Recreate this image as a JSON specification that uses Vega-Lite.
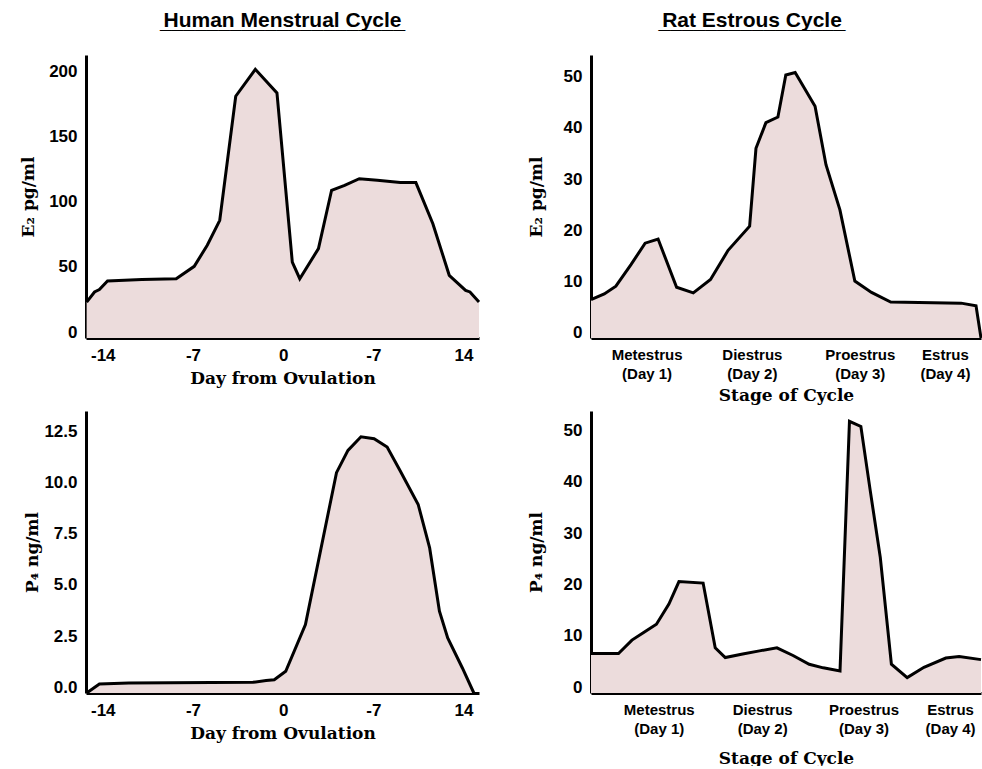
{
  "$schema": "https://vega.github.io/schema/vega-lite/v6.json",
  "background": "white",
  "padding": {"left": 19, "top": 10, "right": 0, "bottom": 0},
  "config": {
    "view": {"stroke": null},
    "axis": {
      "grid": false, "ticks": false, "tickSize": 0,
      "domainColor": "black", "domainWidth": 3,
      "labelFont": "Liberation Sans", "labelFontWeight": "bold", "labelFontSize": 17, "labelColor": "black", "labelPadding": 9,
      "titleFont": "DejaVu Serif", "titleFontWeight": "bold", "titleFontSize": 17, "titleColor": "black"
    },
    "title": {"font": "Liberation Sans", "fontWeight": "bold", "fontSize": 21, "color": "black", "anchor": "middle"}
  },
  "datasets": {
    "humanE2": [
      {"day": -15.25, "value": 23}, {"day": -14.64, "value": 30.8}, {"day": -14.26, "value": 32.6},
      {"day": -13.63, "value": 39.2}, {"day": -10.96, "value": 40.3}, {"day": -8.3, "value": 41},
      {"day": -6.9, "value": 50.5}, {"day": -5.89, "value": 66.7}, {"day": -4.92, "value": 85.9},
      {"day": -3.68, "value": 181.3}, {"day": -2.16, "value": 202}, {"day": -0.48, "value": 183.8},
      {"day": 0.71, "value": 53.8}, {"day": 1.29, "value": 41}, {"day": 2.74, "value": 64.1},
      {"day": 3.76, "value": 109}, {"day": 4.77, "value": 112.8}, {"day": 5.91, "value": 117.9},
      {"day": 7.31, "value": 116.7}, {"day": 9.09, "value": 114.9}, {"day": 10.3, "value": 114.9},
      {"day": 11.62, "value": 83.3}, {"day": 12.89, "value": 43.6}, {"day": 14.16, "value": 32},
      {"day": 14.5, "value": 30.8}, {"day": 15.2, "value": 23}
    ],
    "humanP4": [
      {"day": -15.25, "value": -0.28}, {"day": -14.26, "value": 0.16}, {"day": -11.98, "value": 0.21},
      {"day": -2.34, "value": 0.24}, {"day": -1.32, "value": 0.33}, {"day": -0.69, "value": 0.37},
      {"day": 0.2, "value": 0.78}, {"day": 1.73, "value": 3.06}, {"day": 4.14, "value": 10.47},
      {"day": 5.03, "value": 11.56}, {"day": 6.04, "value": 12.22}, {"day": 7.06, "value": 12.13},
      {"day": 8.07, "value": 11.72}, {"day": 9.09, "value": 10.55}, {"day": 10.48, "value": 8.92},
      {"day": 11.37, "value": 6.8}, {"day": 12.13, "value": 3.71}, {"day": 12.77, "value": 2.41},
      {"day": 13.91, "value": 0.94}, {"day": 14.8, "value": -0.28}
    ],
    "ratE2": [
      {"stage": 0.0, "value": 6.5}, {"stage": 0.136, "value": 7.6}, {"stage": 0.255, "value": 9.1},
      {"stage": 0.41, "value": 13.3}, {"stage": 0.555, "value": 17.5}, {"stage": 0.688, "value": 18.3},
      {"stage": 0.878, "value": 8.9}, {"stage": 1.049, "value": 7.8}, {"stage": 1.226, "value": 10.4},
      {"stage": 1.406, "value": 16.1}, {"stage": 1.627, "value": 20.8}, {"stage": 1.692, "value": 36},
      {"stage": 1.794, "value": 41}, {"stage": 1.917, "value": 42.1}, {"stage": 1.998, "value": 50.3},
      {"stage": 2.094, "value": 50.8}, {"stage": 2.298, "value": 44.2}, {"stage": 2.41, "value": 32.8},
      {"stage": 2.553, "value": 24}, {"stage": 2.706, "value": 10.1}, {"stage": 2.877, "value": 7.9},
      {"stage": 3.074, "value": 6.0}, {"stage": 3.796, "value": 5.8}, {"stage": 3.949, "value": 5.3},
      {"stage": 4.0, "value": -1}
    ],
    "ratP4": [
      {"stage": 0.0, "value": 6.6}, {"stage": 0.282, "value": 6.6}, {"stage": 0.42, "value": 9.2},
      {"stage": 0.54, "value": 10.7}, {"stage": 0.671, "value": 12.3}, {"stage": 0.799, "value": 16.2},
      {"stage": 0.902, "value": 20.6}, {"stage": 1.15, "value": 20.3}, {"stage": 1.274, "value": 7.7},
      {"stage": 1.377, "value": 5.8}, {"stage": 1.556, "value": 6.5}, {"stage": 1.728, "value": 7.1},
      {"stage": 1.907, "value": 7.7}, {"stage": 2.072, "value": 6.2}, {"stage": 2.238, "value": 4.5},
      {"stage": 2.382, "value": 3.8}, {"stage": 2.554, "value": 3.2}, {"stage": 2.651, "value": 51.8},
      {"stage": 2.768, "value": 50.8}, {"stage": 2.864, "value": 38.3}, {"stage": 2.967, "value": 25.3},
      {"stage": 3.081, "value": 4.5}, {"stage": 3.243, "value": 1.9}, {"stage": 3.415, "value": 3.9},
      {"stage": 3.639, "value": 5.7}, {"stage": 3.776, "value": 6.0}, {"stage": 4.0, "value": 5.4}
    ]
  },
  "columns": 2,
  "spacing": {"row": 8, "column": 42},
  "concat": [
    {
      "width": 393, "height": 283,
      "title": {"text": ["Human Menstrual Cycle", "_____________________"], "lineHeight": 1, "offset": 23},
      "data": {"name": "humanE2"},
      "encoding": {
        "x": {"field": "day", "type": "quantitative",
          "scale": {"domain": [-15.3, 15.2], "nice": false, "zero": false},
          "axis": {"values": [-14, -7, 0, 7, 14], "labelExpr": "datum.value == 7 ? '-7' : '' + datum.value", "title": "Day from Ovulation", "titlePadding": 7}},
        "y": {"field": "value", "type": "quantitative",
          "scale": {"domain": [-4.6, 213], "nice": false, "zero": false},
          "axis": {"values": [0, 50, 100, 150, 200], "title": "E₂ pg/ml", "titlePadding": 11}}
      },
      "layer": [
        {"mark": {"type": "area", "color": "#ecdcdc"}, "encoding": {"y2": {"datum": -4.6}}},
        {"mark": {"type": "line", "color": "black", "strokeWidth": 3, "strokeJoin": "miter"}, "encoding": {}}
      ]
    },
    {
      "width": 390, "height": 283,
      "title": {"text": ["Rat Estrous Cycle", "________________"], "lineHeight": 1, "offset": 23, "dx": -34},
      "data": {"name": "ratE2"},
      "encoding": {
        "x": {"field": "stage", "type": "quantitative",
          "scale": {"domain": [0, 4], "nice": false, "zero": false},
          "axis": {"values": [0.57, 1.65, 2.757, 3.63], "labelFontSize": 15, "labelLineHeight": 19, "labelOverlap": false,
            "labelExpr": "datum.value < 1 ? ['Metestrus', '(Day 1)'] : datum.value < 2 ? ['Diestrus', '(Day 2)'] : datum.value < 3 ? ['Proestrus', '(Day 3)'] : ['Estrus', '(Day 4)']",
            "title": "Stage of Cycle", "titlePadding": 6}},
        "y": {"field": "value", "type": "quantitative",
          "scale": {"domain": [-1, 54.2], "nice": false, "zero": false},
          "axis": {"values": [0, 10, 20, 30, 40, 50], "title": "E₂ pg/ml", "titlePadding": 18}}
      },
      "layer": [
        {"mark": {"type": "area", "color": "#ecdcdc"}, "encoding": {"y2": {"datum": -1}}},
        {"mark": {"type": "line", "color": "black", "strokeWidth": 3, "strokeJoin": "miter"}, "encoding": {}}
      ]
    },
    {
      "width": 393, "height": 282,
      "data": {"name": "humanP4"},
      "encoding": {
        "x": {"field": "day", "type": "quantitative",
          "scale": {"domain": [-15.3, 15.2], "nice": false, "zero": false},
          "axis": {"values": [-14, -7, 0, 7, 14], "labelExpr": "datum.value == 7 ? '-7' : '' + datum.value", "title": "Day from Ovulation", "titlePadding": 7}},
        "y": {"field": "value", "type": "quantitative",
          "scale": {"domain": [-0.28, 13.48], "nice": false, "zero": false},
          "axis": {"values": [0, 2.5, 5, 7.5, 10, 12.5], "format": ".1f", "title": "P₄ ng/ml", "titlePadding": 2}}
      },
      "layer": [
        {"mark": {"type": "area", "color": "#ecdcdc"}, "encoding": {"y2": {"datum": -0.28}}},
        {"mark": {"type": "line", "color": "black", "strokeWidth": 3, "strokeJoin": "miter"}, "encoding": {}}
      ]
    },
    {
      "width": 390, "height": 282,
      "data": {"name": "ratP4"},
      "encoding": {
        "x": {"field": "stage", "type": "quantitative",
          "scale": {"domain": [0, 4], "nice": false, "zero": false},
          "axis": {"values": [0.695, 1.756, 2.795, 3.683], "labelFontSize": 15, "labelLineHeight": 19, "labelOverlap": false,
            "labelExpr": "datum.value < 1 ? ['Metestrus', '(Day 1)'] : datum.value < 2 ? ['Diestrus', '(Day 2)'] : datum.value < 3 ? ['Proestrus', '(Day 3)'] : ['Estrus', '(Day 4)']",
            "title": "Stage of Cycle", "titlePadding": 14}},
        "y": {"field": "value", "type": "quantitative",
          "scale": {"domain": [-1.1, 53.8], "nice": false, "zero": false},
          "axis": {"values": [0, 10, 20, 30, 40, 50], "title": "P₄ ng/ml", "titlePadding": 18}}
      },
      "layer": [
        {"mark": {"type": "area", "color": "#ecdcdc"}, "encoding": {"y2": {"datum": -1.1}}},
        {"mark": {"type": "line", "color": "black", "strokeWidth": 3, "strokeJoin": "miter"}, "encoding": {}}
      ]
    }
  ]
}
